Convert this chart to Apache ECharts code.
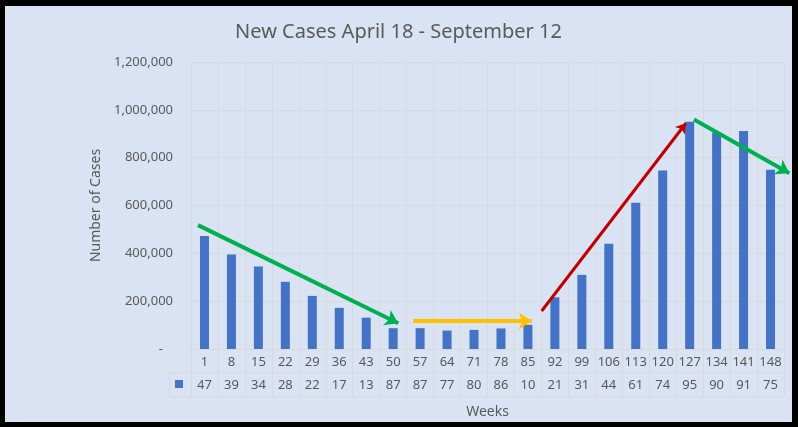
<!DOCTYPE html>
<html>
<head>
<meta charset="utf-8">
<script src="https://cdn.jsdelivr.net/npm/echarts@6/dist/echarts.min.js"></script>
<style>
html,body{margin:0;padding:0;background:#000;}
#frame{position:absolute;left:0;top:0;width:798px;height:427px;box-sizing:border-box;border-style:solid;border-color:#000;border-width:6px 6px 5px 5px;background:#DAE3F3;}
#chart{width:787px;height:416px;}
</style>
</head>
<body>
<div id="frame"><div id="chart"></div></div>
<script>
// ---- data ----
const weeks = ['1','8','15','22','29','36','43','50','57','64','71','78','85','92','99','106','113','120','127','134','141','148'];
const newCases = [472000,395000,345000,281000,222000,172000,131000,87000,87200,77000,80000,86000,101000,216000,310000,440000,612000,746000,950000,905000,912000,750000];
const yTicks = [0,200000,400000,600000,800000,1000000,1200000];
// data-table row shows the leading two digits of each value (as in the reference)
const tableLabels = newCases.map(v => String(Math.round(v)).slice(0, 2));

// ---- annotation arrows (in category-index / value coordinates) ----
const arrows = [
  {from:[-0.24, 518000], to:[7.19, 107500], color:'#00B050', width:4},
  {from:[7.74, 117000], to:[12.14, 117000], color:'#FFC000', width:4},
  {from:[12.51, 159000], to:[17.86, 944000], color:'#C00000', width:3},
  {from:[18.16, 960000], to:[21.70, 735000], color:'#00B050', width:4}
];

const txt = '#595959';
const gridC = '#D9D9D9';
const font = 'Noto Sans';
const W = 787;
const catW = (W - 186 - 8) / weeks.length;
const arrowLeft = 186 - catW;

const chart = echarts.init(document.getElementById('chart'));
chart.setOption({
  backgroundColor: 'transparent',
  animation: false,
  textStyle: {fontFamily: font},
  title: {
    text: 'New Cases April 18 - September 12',
    left: 'center', top: 11,
    textStyle: {color: txt, fontSize: 20, fontWeight: 'normal', fontFamily: font}
  },
  legend: {
    data: ['New Cases'], left: 170, top: 374, padding: 0,
    icon: 'rect', itemWidth: 8, itemHeight: 8, selectedMode: false,
    formatter: () => '', textStyle: {fontSize: 8}
  },
  grid: [
    {left: 186, right: 8, top: 56, bottom: 73},
    {left: 186, right: 8, top: 343, height: 23},
    {left: 164, right: 8, top: 366, height: 24},
    {left: arrowLeft, right: 0, top: 56, bottom: 73}
  ],
  xAxis: [
    {
      gridIndex: 0, type: 'category', data: weeks, boundaryGap: true,
      axisLine: {lineStyle: {color: gridC}},
      axisTick: {show: true, interval: 0, length: 47, lineStyle: {color: gridC}},
      axisLabel: {interval: 0, margin: 7, color: txt, fontSize: 13, fontFamily: font},
      splitLine: {show: true, interval: 0, lineStyle: {color: gridC}}
    },
    {
      gridIndex: 1, type: 'category', data: tableLabels, boundaryGap: true,
      axisLine: {show: false}, axisTick: {show: false},
      axisLabel: {interval: 0, margin: 7, color: txt, fontSize: 13, fontFamily: font},
      name: 'Weeks', nameLocation: 'middle', nameGap: 33,
      nameTextStyle: {color: txt, fontSize: 14, fontFamily: font}
    },
    {gridIndex: 2, type: 'value', min: 0, max: 1, show: false},
    {gridIndex: 3, type: 'value', min: -1.5, max: -1.5 + (W - arrowLeft) / catW, show: false}
  ],
  yAxis: [
    {
      gridIndex: 0, type: 'value', min: yTicks[0], max: yTicks[yTicks.length - 1],
      interval: yTicks[1] - yTicks[0],
      axisLine: {show: false}, axisTick: {show: false},
      axisLabel: {
        margin: 18, color: txt, fontSize: 13, fontFamily: font,
        formatter: v => v === 0 ? '-   ' : v.toLocaleString('en-US')
      },
      splitLine: {show: true, lineStyle: {color: gridC}},
      name: 'Number of Cases', nameLocation: 'middle', nameGap: 88,
      nameTextStyle: {color: txt, fontSize: 14, fontFamily: font}
    },
    {gridIndex: 1, type: 'value', show: false},
    {
      gridIndex: 2, type: 'value', min: 0, max: 1, interval: 1,
      axisLine: {show: true, lineStyle: {color: gridC}},
      axisTick: {show: false}, axisLabel: {show: false},
      splitLine: {show: true, lineStyle: {color: gridC}}
    },
    {gridIndex: 3, type: 'value', min: yTicks[0], max: yTicks[yTicks.length - 1], show: false}
  ],
  series: [
    {
      name: 'New Cases', type: 'bar', xAxisIndex: 0, yAxisIndex: 0,
      data: newCases, barWidth: 9,
      itemStyle: {color: '#4472C4'}
    }
  ].concat(arrows.map((a, i) => ({
    name: 'arrow' + i, type: 'line', xAxisIndex: 3, yAxisIndex: 3,
    data: [], symbol: 'none', silent: true, z: 5,
    markLine: {
      silent: true, animation: false,
      symbol: ['none', 'arrow'], symbolSize: [a.width * 3.2, a.width * 3.2],
      label: {show: false},
      lineStyle: {color: a.color, width: a.width, type: 'solid'},
      emphasis: {disabled: true},
      data: [[{coord: a.from}, {coord: a.to}]]
    }
  })))
});
</script>
</body>
</html>
